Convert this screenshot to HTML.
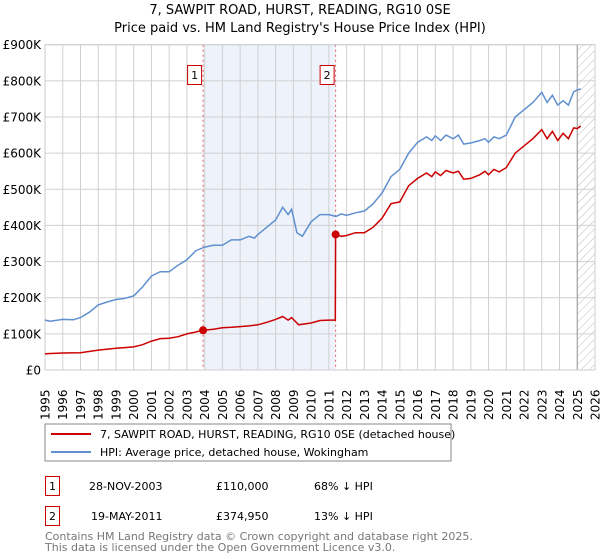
<!DOCTYPE html>
<html><head><meta charset="utf-8"><style>
body{margin:0;background:#fff;font-family:"DejaVu Sans","Liberation Sans",sans-serif;}
svg{display:block}
</style></head><body>
<svg width="600" height="560" xmlns="http://www.w3.org/2000/svg" font-family="DejaVu Sans, Liberation Sans, sans-serif">
<text x="300" y="14" text-anchor="middle" font-size="13">7, SAWPIT ROAD, HURST, READING, RG10 0SE</text>
<text x="300" y="32" text-anchor="middle" font-size="13">Price paid vs. HM Land Registry's House Price Index (HPI)</text>
<defs><pattern id="hatch" width="6" height="6" patternUnits="userSpaceOnUse" patternTransform="rotate(45)"><line x1="0" y1="0" x2="0" y2="6" stroke="#bbb" stroke-width="1"/></pattern></defs>
<g id="plot"></g>
<rect x="45" y="424" width="406" height="37" fill="#fff" stroke="#888"/>
<line x1="51" y1="434" x2="91" y2="434" stroke="#cc0000" stroke-width="2"/>
<text x="100" y="438" font-size="11">7, SAWPIT ROAD, HURST, READING, RG10 0SE (detached house)</text>
<line x1="51" y1="452" x2="91" y2="452" stroke="#6090d0" stroke-width="2"/>
<text x="100" y="456" font-size="11">HPI: Average price, detached house, Wokingham</text>
<g font-size="11">
<rect x="45.5" y="476.5" width="14" height="19" fill="#fff" stroke="#cc0000"/>
<text x="52.5" y="490" text-anchor="middle">1</text>
<text x="89" y="490">28-NOV-2003</text>
<text x="216" y="490">£110,000</text>
<text x="314" y="490">68% ↓ HPI</text>
<rect x="45.5" y="506.5" width="14" height="19" fill="#fff" stroke="#cc0000"/>
<text x="52.5" y="520" text-anchor="middle">2</text>
<text x="91" y="520">19-MAY-2011</text>
<text x="216" y="520">£374,950</text>
<text x="314" y="520">13% ↓ HPI</text>
</g>
<text x="45" y="540" font-size="11" fill="#777">Contains HM Land Registry data © Crown copyright and database right 2025.</text>
<text x="45" y="551" font-size="11" fill="#777">This data is licensed under the Open Government Licence v3.0.</text>
</svg>
<script>
const yTicks=[0,100,200,300,400,500,600,700,800,900];
const yTickLabels=["£0","£100K","£200K","£300K","£400K","£500K","£600K","£700K","£800K","£900K"];
const xYears=[1995,1996,1997,1998,1999,2000,2001,2002,2003,2004,2005,2006,2007,2008,2009,2010,2011,2012,2013,2014,2015,2016,2017,2018,2019,2020,2021,2022,2023,2024,2025,2026];
const hpiDates=[1995,1995.3,1996,1996.6,1997,1997.5,1998,1998.5,1999,1999.5,2000,2000.5,2001,2001.5,2002,2002.5,2003,2003.5,2004,2004.5,2005,2005.5,2006,2006.5,2006.8,2007,2007.5,2008,2008.4,2008.7,2008.9,2009.2,2009.5,2010,2010.5,2011,2011.4,2011.7,2012,2012.5,2013,2013.5,2014,2014.5,2015,2015.5,2016,2016.5,2016.8,2017,2017.3,2017.6,2018,2018.3,2018.6,2019,2019.5,2019.8,2020,2020.3,2020.6,2021,2021.5,2022,2022.5,2023,2023.3,2023.6,2023.9,2024.2,2024.5,2024.8,2025,2025.2];
const hpiValues=[138,135,140,139,145,160,180,188,195,198,205,230,260,272,272,290,305,330,340,345,345,360,360,370,365,375,395,415,450,430,445,380,370,410,430,430,425,432,428,435,440,460,490,535,555,600,630,645,635,648,635,650,640,650,625,628,635,640,630,645,640,650,700,720,740,768,740,760,733,745,733,770,775,778];
const priceDates=[1995,1996,1997,1998,1999,2000,2000.5,2001,2001.5,2002,2002.5,2003,2003.5,2003.9,2004.5,2005,2005.5,2006,2006.5,2007,2007.5,2008,2008.4,2008.7,2008.9,2009.3,2010,2010.5,2011,2011.36,2011.38,2011.7,2012,2012.5,2013,2013.5,2014,2014.5,2015,2015.5,2016,2016.5,2016.8,2017,2017.3,2017.6,2018,2018.3,2018.6,2019,2019.5,2019.8,2020,2020.3,2020.6,2021,2021.5,2022,2022.5,2023,2023.3,2023.6,2023.9,2024.2,2024.5,2024.8,2025,2025.2];
const priceValues=[45,47,48,55,60,64,70,80,87,88,92,100,105,110,113,117,118,120,122,125,132,140,148,138,145,125,130,137,138,138,374.95,370,372,380,380,395,420,460,465,510,530,545,535,548,538,552,545,550,528,530,540,550,540,555,548,560,600,620,640,665,640,660,635,655,640,670,668,675];
const sales=[{d:2003.91,v:110},{d:2011.38,v:374.95}];
const X0=45,X1=595,Y0=370,Y1=44.7;
const xs=y=>X0+(y-1995)/(2026-1995)*(X1-X0);
const ys=v=>Y0-v/900*(Y0-Y1);
const NS="http://www.w3.org/2000/svg";
const g=document.getElementById('plot');
function mk(t,a,p){const e=document.createElementNS(NS,t);for(const k in a)e.setAttribute(k,a[k]);(p||g).appendChild(e);return e;}
const shade=mk('rect',{x:xs(sales[0].d),y:Y1,width:xs(sales[1].d)-xs(sales[0].d),height:Y0-Y1,fill:'#eef2fb'});


const hatch=mk('rect',{x:xs(2025.0),y:Y1,width:X1-xs(2025.0),height:Y0-Y1,fill:'url(#hatch)'});


xYears.forEach(yr=>{
 const l=mk('line',{x1:xs(yr),x2:xs(yr),y1:Y1,y2:Y0,stroke:'#d0d0d0','stroke-width':1});
 
 
 const t=mk('text',{x:0,y:0,'font-size':12,transform:`translate(${xs(yr)+4.5},${Y0+50}) rotate(-90)`});
 t.textContent=yr;
 
 
});
yTicks.forEach((v,i)=>{
 const l=mk('line',{x1:X0,x2:X1,y1:ys(v),y2:ys(v),stroke:'#d0d0d0','stroke-width':1});
 
 
 const t=mk('text',{x:41,y:ys(v)+4.5,'font-size':12,'text-anchor':'end'});
 t.textContent=yTickLabels[i];
 
 
});
const edge=mk('line',{x1:xs(2025.0),x2:xs(2025.0),y1:Y1,y2:Y0,stroke:'#999','stroke-width':1});


sales.forEach((s,i)=>{
 const l=mk('line',{x1:xs(s.d),x2:xs(s.d),y1:Y1,y2:Y0,stroke:'#e06060','stroke-dasharray':'2,3','stroke-width':1});
 
 
 const r=mk('rect',{x:xs(s.d)-15.5,y:65.5,width:14,height:19,fill:'#fff',stroke:'#cc0000'});
 
 
 const t=mk('text',{x:xs(s.d)-8.5,y:79,'font-size':11,'text-anchor':'middle'});
 t.textContent=i+1;
 
 
});
const border=mk('rect',{x:X0,y:Y1,width:X1-X0,height:Y0-Y1,fill:'none',stroke:'#ccc'});


function path(d,v){return d.map((x,i)=>(i?'L':'M')+xs(x).toFixed(1)+','+ys(v[i]).toFixed(1)).join('');}
const hp=mk('path',{d:path(hpiDates,hpiValues),fill:'none',stroke:'#6090d0','stroke-width':1.5});


const pp=mk('path',{d:path(priceDates,priceValues),fill:'none',stroke:'#cc0000','stroke-width':1.5});


sales.forEach((s,i)=>{
 const c=mk('circle',{cx:xs(s.d),cy:ys(s.v),r:4,fill:'#cc0000'});
 
 
});
</script>
</body></html>
